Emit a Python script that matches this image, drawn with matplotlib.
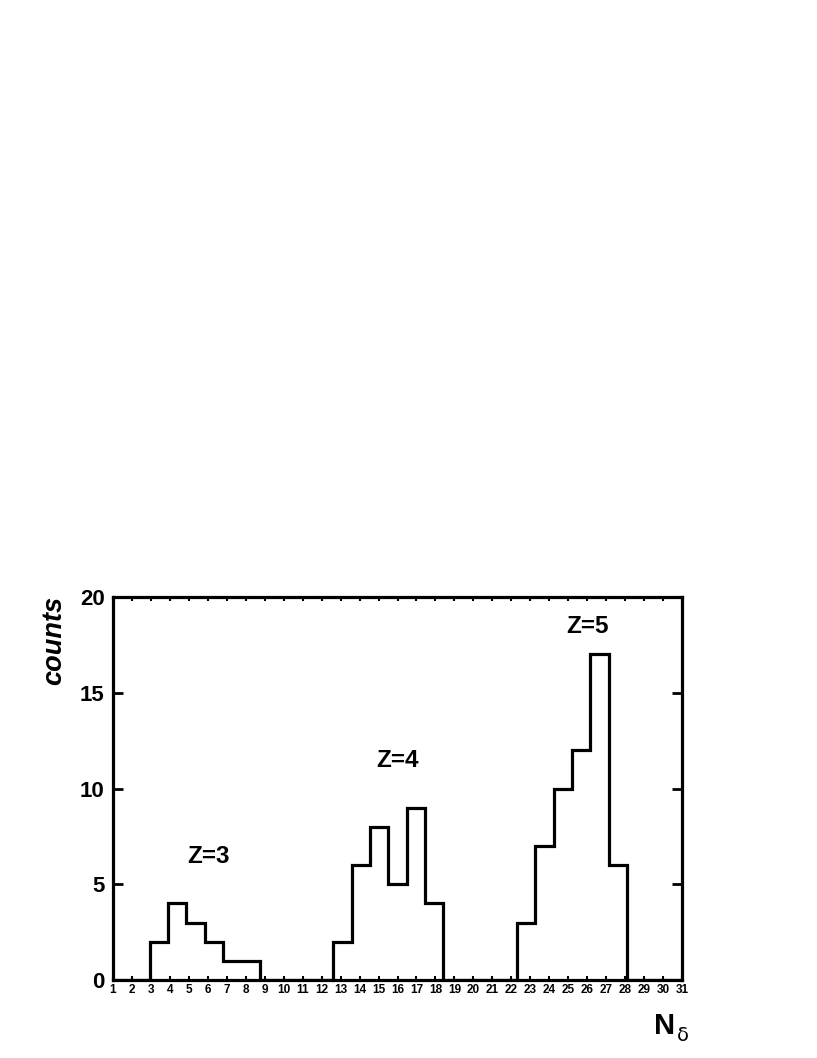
import numpy as np
import matplotlib
matplotlib.use("Agg")
import matplotlib.pyplot as plt

plt.rcParams['font.family'] = ['Liberation Sans', 'DejaVu Sans']

# 31 bins spanning N_delta = 1 .. 31
counts = [0, 0, 2, 4, 3, 2, 1, 1, 0, 0, 0, 0, 2, 6, 8, 5, 9, 4, 0, 0, 0, 0,
          3, 7, 10, 12, 17, 6, 0, 0, 0]
x_min, x_max = 1, 31
x_tick_labels = [str(i) for i in range(1, 32)]
y_ticks = [0, 5, 10, 15, 20]
peak_labels = ["Z=3", "Z=4", "Z=5"]
peak_pos = [(6.05, 6.45), (16.0, 11.45), (26.0, 18.45)]

fig = plt.figure(figsize=(8.17, 10.58), dpi=100)
ax = fig.add_axes([0.1383, 0.0737, 0.6965, 0.362])

edges = np.linspace(x_min, x_max, len(counts) + 1)
ax.stairs(counts, edges, color='black', linewidth=2.3, baseline=0)

ax.set_xlim(x_min, x_max)
ax.set_ylim(0, 20)

ax.set_xticks(range(1, 32))
ax.set_xticklabels(x_tick_labels, fontsize=8.5, fontweight='bold')
ax.set_yticks(y_ticks)
ax.set_yticklabels([str(v) for v in y_ticks], fontsize=16, fontweight='bold')

ax.tick_params(axis='x', direction='in', length=3, width=1.5, top=True, bottom=True, pad=3)
ax.tick_params(axis='y', direction='in', length=7, width=2, left=True, right=True, pad=6)

for s in ax.spines.values():
    s.set_linewidth(2.3)

for lab, (px, py) in zip(peak_labels, peak_pos):
    ax.text(px, py, lab, fontsize=17.5, fontweight='bold', ha='center', va='center')

fig.text(0.066, 0.437, "counts", rotation=90, fontsize=19.5, fontweight='bold',
         fontstyle='italic', ha='center', va='top')
fig.text(0.801, 0.03, "N", fontsize=21, fontweight='bold', ha='left', va='center')
fig.text(0.829, 0.021, "\u03b4", fontsize=14, ha='left', va='center',
         family=['DejaVu Sans'])

fig.savefig("out.png", dpi=100)
